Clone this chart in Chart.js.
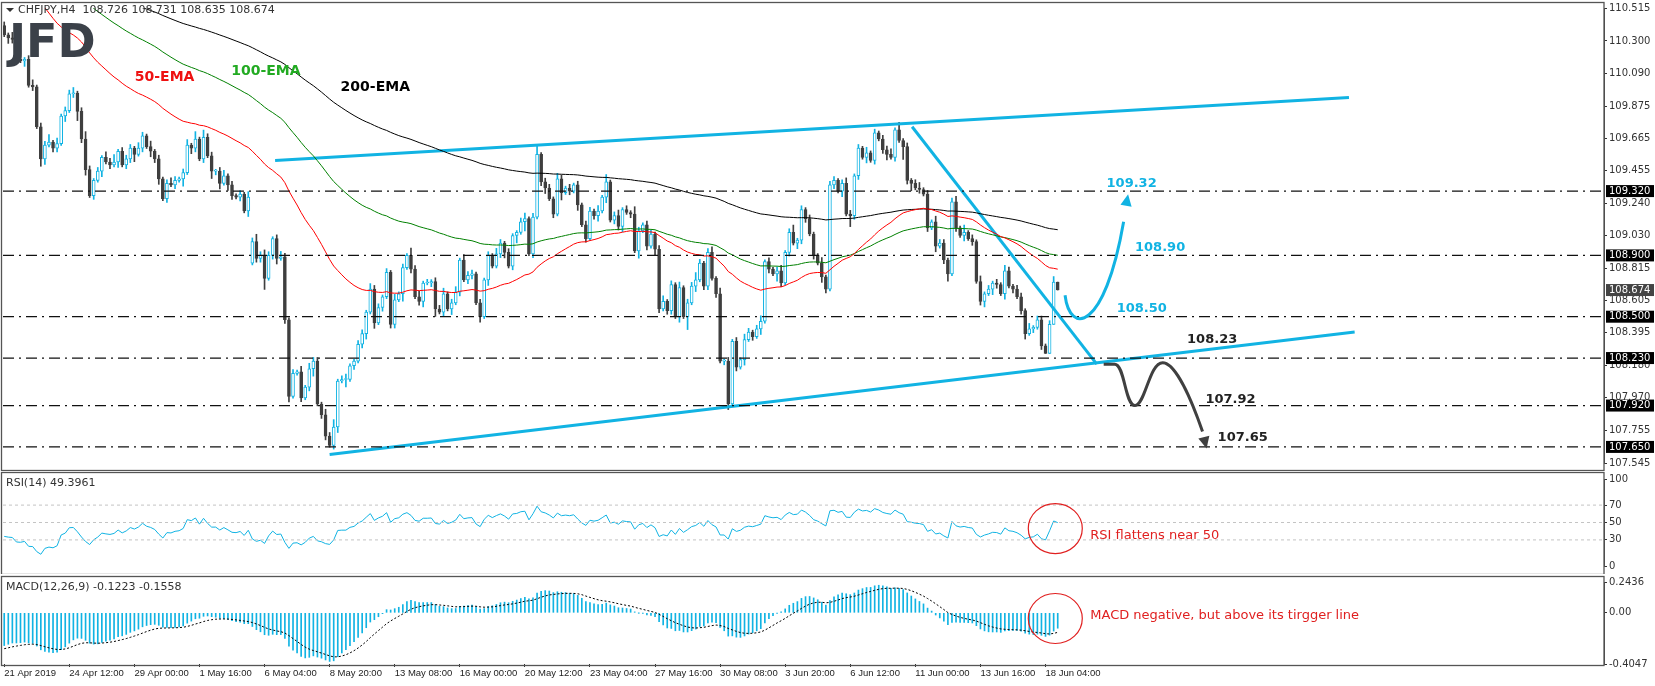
<!DOCTYPE html>
<html><head><meta charset="utf-8">
<script src="https://cdn.jsdelivr.net/npm/chart.js@4.4.1/dist/chart.umd.min.js"></script>
<style>
html,body{margin:0;padding:0;background:#fff;width:1655px;height:686px;overflow:hidden}
.p{position:absolute;left:0;width:1655px}
</style></head><body>
<div class="p" style="top:0;height:471px"><canvas id="cMain" width="1655" height="471"></canvas></div>
<div class="p" style="top:471px;height:103px"><canvas id="cRsi" width="1655" height="103"></canvas></div>
<div class="p" style="top:574px;height:112px"><canvas id="cMacd" width="1655" height="112"></canvas></div>
<script>
// ---------- DATA ----------
const closes = [
110.34,110.32,110.31,110.18,110.17,110.18,110.01,110.00,109.74,109.53,
109.62,109.64,109.60,109.63,109.81,109.845,109.955,109.96,109.84,109.66,
109.46,109.29,109.39,109.45,109.54,109.51,109.49,109.51,109.58,109.49,
109.53,109.60,109.56,109.60,109.68,109.61,109.58,109.53,109.40,109.27,
109.37,109.36,109.39,109.40,109.44,109.62,109.60,109.66,109.53,109.67,
109.55,109.45,109.45,109.37,109.42,109.36,109.29,109.28,109.30,109.19,
109.28,
108.99,108.88,108.90,108.75,108.90,109.01,108.88,108.89,108.48,107.98,
108.13,108.14,107.97,108.04,108.16,108.21,107.93,107.86,107.72,107.66,
107.78,108.08,108.09,108.09,108.18,108.21,108.32,108.39,108.53,108.68,
108.46,108.56,108.63,108.79,108.45,108.61,108.65,108.82,108.90,108.81,
108.63,108.60,108.72,108.72,108.73,108.55,108.53,108.65,108.55,108.59,
108.66,108.87,108.74,108.77,108.78,108.59,108.50,108.74,108.90,108.83,
108.91,108.98,108.92,
108.83,109.03,109.05,109.12,109.14,108.91,109.15,109.56,109.38,109.34,
109.27,109.17,109.40,109.31,109.34,109.32,109.36,109.23,109.10,109.01,
109.19,109.16,109.19,109.28,109.38,109.13,109.16,109.09,109.20,109.18,
109.17,108.93,109.06,109.10,108.96,109.04,108.94,108.55,108.60,108.54,
108.71,108.50,108.69,108.50,108.59,108.70,108.74,108.85,108.70,108.92,
108.75,108.65,108.21,108.21,107.93,108.34,108.17,108.22,108.35,108.40,
108.37,108.42,108.47,108.86,108.81,108.78,108.80,108.72,108.92,109.05,
108.98,109.00,109.20,109.14,109.04,108.90,108.85,108.76,108.68,109.36,
109.39,109.32,109.37,109.17,109.16,109.42,109.60,109.54,109.57,109.52,
109.70,109.66,109.59,109.56,109.54,109.72,109.65,109.61,109.39,109.37,
109.34,109.33,109.30,109.08,109.12,108.96,108.98,108.87,108.78,109.25,
109.08,109.03,109.05,109.01,108.99,108.73,108.60,108.65,108.68,108.72,
108.71,108.65,108.80,108.70,108.68,108.63,108.54,108.39,108.42,108.43,
108.48,108.31,108.26,108.45,108.726,108.674
];
const firstOpen = 110.40;
const gapOpens = {61:108.85};
// wick lengths, one digit per bar, in units of 0.012
const wickUp = "2131212312241312231242121324122213213121232123141422123121213242321232121313221324123112213221213121423121223123132212121321211231251221321212122131412312142122123121312242123131212132123121231241212113122123212131212231412123121322123141213121213212213122123";
const wickDn = "1322131214312213125231213121312241213231212141321214231321213122612312311212412212314121231312122141212312412131212213131123124151212312141213121231312231214121321221317131221212312131213121421213221213212131622131212312172412121312412131212313213121231212";
const dateLabels = ["21 Apr 2019","24 Apr 12:00","29 Apr 00:00","1 May 16:00","6 May 04:00","8 May 20:00","13 May 08:00","16 May 00:00","20 May 12:00","23 May 04:00","27 May 16:00","30 May 08:00","3 Jun 20:00","6 Jun 12:00","11 Jun 00:00","13 Jun 16:00","18 Jun 04:00"];
const barsPerLabel = 16;
const priceTicks = [110.515,110.300,110.090,109.875,109.665,109.455,109.240,109.030,108.815,108.605,108.395,108.180,107.970,107.755,107.545];
const levels = [109.32,108.90,108.50,108.23,107.92,107.65];
const levelTags = ["109.320","108.900","108.500","108.230","107.920","107.650"];
const lastPrice = 108.674;
const upperChannel = [[66.6,109.52],[330.6,109.93]];
const lowerChannel = [[80,107.60],[332,108.40]];
const downTrend = [[223.2,109.74],[268.6,108.19]];
const emaSeeds = {e50:110.80, e100:110.92, e200:110.85};
const macdSeeds = {fast:110.45, slow:110.72, signal:-0.29};
const rsiSeeds = {gain:0.022, loss:0.038};
const xMin = -0.3, xMax = 393.3;

// ---------- DERIVED ----------
const N = closes.length;
const opens = closes.map((c,i)=> gapOpens[i]!==undefined ? gapOpens[i] : (i===0?firstOpen:closes[i-1]));
const highs = closes.map((c,i)=> Math.max(c,opens[i]) + (+wickUp[i]||0)*0.012);
const lows  = closes.map((c,i)=> Math.min(c,opens[i]) - (+wickDn[i]||0)*0.012);
function ema(src, p, seed){let a=2/(p+1),v=seed;return src.map(x=>(v=v+a*(x-v)));}
const ema50 = ema(closes,50,emaSeeds.e50), ema100=ema(closes,100,emaSeeds.e100), ema200=ema(closes,200,emaSeeds.e200);
const e12 = ema(closes,12,macdSeeds.fast), e26 = ema(closes,26,macdSeeds.slow);
const macd = e12.map((v,i)=>v-e26[i]);
const signal = ema(macd,9,macdSeeds.signal);
const rsi = (()=>{let g=rsiSeeds.gain,l=rsiSeeds.loss;return closes.map((c,i)=>{const d=i===0?c-firstOpen:c-closes[i-1];g=(g*13+Math.max(d,0))/14;l=(l*13+Math.max(-d,0))/14;return 100-100/(1+g/l);});})();

const CY='#11b3e3', DK='#3f3f3f';
Chart.defaults.font.family='DejaVu Sans';Chart.defaults.font.size=10;Chart.defaults.color='#333';
Chart.defaults.animation=false;

const xScale=(show)=>({type:'linear',min:xMin,max:xMax,display:show,offset:false,
  afterBuildTicks:s=>{s.ticks=dateLabels.map((_,k)=>({value:k*barsPerLabel}));},
  afterFit:s=>{if(show)s.height=22;s.paddingLeft=0;s.paddingRight=0;},
  grid:{drawOnChartArea:false,drawTicks:true,tickLength:3,color:'#333',offset:false},border:{display:false},
  ticks:{autoSkip:false,maxRotation:0,align:'start',padding:1,color:'#222',font:{size:9.5,family:'Liberation Sans'},callback:v=>dateLabels[v/barsPerLabel]||''}});
const yScale=(min,max,ticks,fmt)=>({type:'linear',position:'right',min,max,
  afterBuildTicks:s=>{s.ticks=ticks.map(v=>({value:v}));},
  afterFit:s=>{s.width=51;},
  grid:{drawOnChartArea:false,tickLength:3,color:'#333'},border:{display:true,color:'#444'},
  ticks:{autoSkip:false,padding:2,color:'#333',callback:fmt}});
const frame=(t,b)=>({id:'frame',afterDraw(c){const x=c.ctx,a=c.chartArea;x.save();x.strokeStyle='#555';x.lineWidth=1.3;x.strokeRect(1.5,t+0.5,a.right-1.5,b-t);x.restore();}});
const seg=(pts,color,w,dash)=>({type:'line',data:pts.map(p=>({x:p[0],y:p[1]})),borderColor:color,borderWidth:w,borderDash:dash||[],pointRadius:0,order:0});
const idx=[...Array(N).keys()];

// ---------- MAIN ----------
const mainOverlay={id:'mainOverlay',afterDatasetsDraw(c){
  const x=c.ctx,X=v=>c.scales.x.getPixelForValue(v),Y=v=>c.scales.y.getPixelForValue(v);
  x.save();
  function arrowHead(tx,ty,fx,fy,col){const ang=Math.atan2(ty-fy,tx-fx),L=13;x.fillStyle=col;x.beginPath();x.moveTo(tx,ty);
    x.lineTo(tx-L*Math.cos(ang-0.45),ty-L*Math.sin(ang-0.45));x.lineTo(tx-L*Math.cos(ang+0.45),ty-L*Math.sin(ang+0.45));x.closePath();x.fill();}
  x.lineWidth=3;x.strokeStyle=CY;x.beginPath();x.moveTo(X(260.8),Y(108.64));
  x.bezierCurveTo(X(262),Y(108.38),X(270.5),Y(108.40),X(275.2),Y(109.12));x.stroke();
  arrowHead(X(276.3),Y(109.30),X(274.3),Y(109.0),CY);
  x.strokeStyle='#404040';x.beginPath();x.moveTo(X(270.3),Y(108.19));x.lineTo(X(273),Y(108.19));
  x.bezierCurveTo(X(275.5),Y(108.19),X(275.5),Y(107.92),X(278),Y(107.92));
  x.bezierCurveTo(X(280.5),Y(107.92),X(281.5),Y(108.20),X(284.8),Y(108.20));
  x.bezierCurveTo(X(288),Y(108.20),X(292),Y(107.95),X(294.6),Y(107.75));x.stroke();
  arrowHead(X(295.6),Y(107.64),X(293.6),Y(107.86),'#404040');
  x.font='bold 13px DejaVu Sans';x.textBaseline='middle';x.textAlign='left';
  x.fillStyle=CY;[["109.32",271,109.37],["108.90",278,108.95],["108.50",273.5,108.55]].forEach(t=>x.fillText(t[0],X(t[1]),Y(t[2])));
  x.fillStyle='#222';[["108.23",290.8,108.35],["107.92",295.3,107.96],["107.65",298.3,107.71]].forEach(t=>x.fillText(t[0],X(t[1]),Y(t[2])));
  x.font='bold 14px DejaVu Sans';
  x.fillStyle='#ee1111';x.fillText('50-EMA',X(32.1),Y(110.06));
  x.fillStyle='#22aa22';x.fillText('100-EMA',X(55.8),Y(110.10));
  x.fillStyle='#000';x.fillText('200-EMA',X(82.7),Y(110.0));
  x.fillStyle='#333';x.beginPath();x.moveTo(6,8);x.lineTo(14,8);x.lineTo(10,12);x.closePath();x.fill();
  x.font='11px DejaVu Sans';x.fillText('CHFJPY,H4  108.726 108.731 108.635 108.674',18,10);
  x.font='bold 46px DejaVu Sans';x.fillStyle='#3b4149';x.textBaseline='alphabetic';x.fillText('JFD',9,57);
  x.restore();
},afterDraw(c){
  const x=c.ctx,Y=v=>c.scales.y.getPixelForValue(v),a=c.chartArea;x.save();
  x.font='10px DejaVu Sans';x.textBaseline='middle';x.textAlign='left';
  const tag=(txt,v,bg)=>{const y=Y(v);x.fillStyle=bg;x.fillRect(a.right+2,y-6,48,12);x.fillStyle='#fff';x.fillText(txt,a.right+5,y);};
  levels.forEach((v,k)=>tag(levelTags[k],v,'#000'));tag(lastPrice.toFixed(3),lastPrice,'#444');
  x.restore();}};

new Chart(document.getElementById('cMain'),{type:'bar',
  data:{datasets:[
    ...levels.map(v=>seg([[xMin,v],[xMax,v]],'#111',1.3,[11,5,2,5])),
    {type:'bar',data:idx.map(i=>({x:i,y:[lows[i],highs[i]]})),barThickness:1,grouped:false,order:3,
      backgroundColor:idx.map(i=>closes[i]>=opens[i]?CY:DK)},
    {type:'bar',data:idx.map(i=>({x:i,y:[opens[i],closes[i]]})),barThickness:3,grouped:false,order:2,minBarLength:1,borderSkipped:false,borderWidth:1,
      backgroundColor:idx.map(i=>closes[i]>=opens[i]?'#fff':DK),borderColor:idx.map(i=>closes[i]>=opens[i]?CY:DK)},
    seg(idx.map(i=>[i,ema50[i]]),'#ff0000',1),
    seg(idx.map(i=>[i,ema100[i]]),'#008000',1),
    seg(idx.map(i=>[i,ema200[i]]),'#000000',1),
    seg(upperChannel,CY,3),seg(lowerChannel,CY,3),seg(downTrend,CY,3)
  ]},
  options:{responsive:false,layout:{padding:{left:3,right:0,top:6,bottom:2}},
    plugins:{legend:{display:false},tooltip:{enabled:false}},
    scales:{x:xScale(false),y:yScale(107.545,110.515,priceTicks,v=>v.toFixed(3))}},
  plugins:[frame(2,470),mainOverlay]});

// ---------- RSI ----------
const rsiLevels=[70,50,30];
new Chart(document.getElementById('cRsi'),{type:'line',
  data:{datasets:[
    ...rsiLevels.map(v=>seg([[xMin,v],[xMax,v]],'#c4c4c4',1,[3,3])),
    {data:idx.map(i=>({x:i,y:rsi[i]})),borderColor:CY,borderWidth:1,pointRadius:0}
  ]},
  options:{responsive:false,layout:{padding:{left:3,right:0,top:3,bottom:2}},
    plugins:{legend:{display:false},tooltip:{enabled:false}},
    scales:{x:xScale(false),y:yScale(0,100,[0,30,50,70,100],v=>String(v))}},
  plugins:[frame(1,103),{id:'rsiOv',afterDraw(c){const x=c.ctx,X=v=>c.scales.x.getPixelForValue(v),Y=v=>c.scales.y.getPixelForValue(v);x.save();
    x.font='11px DejaVu Sans';x.fillStyle='#333';x.textBaseline='middle';x.fillText('RSI(14) 49.3961',6,12);
    x.strokeStyle='#e02020';x.lineWidth=1.2;x.beginPath();x.ellipse(X(258.4),Y(43),27,25,0,0,Math.PI*2);x.stroke();
    x.fillStyle='#e02020';x.font='13px DejaVu Sans';x.fillText('RSI flattens near 50',X(267),Y(35));x.restore();}}]});

// ---------- MACD ----------
new Chart(document.getElementById('cMacd'),{type:'bar',
  data:{datasets:[
    {type:'bar',data:idx.map(i=>({x:i,y:macd[i]})),barThickness:1,backgroundColor:CY,order:2},
    {type:'line',data:idx.map(i=>({x:i,y:signal[i]})),borderColor:'#000',borderWidth:1,borderDash:[2,2],pointRadius:0,order:1}
  ]},
  options:{responsive:false,layout:{padding:{left:3,right:0,top:4,bottom:0}},
    plugins:{legend:{display:false},tooltip:{enabled:false}},
    scales:{x:xScale(true),y:yScale(-0.4047,0.2436,[-0.4047,0,0.2436],v=>v===0?'0.00':v.toFixed(4))}},
  plugins:[frame(2,91),{id:'macdOv',afterDraw(c){const x=c.ctx,X=v=>c.scales.x.getPixelForValue(v),Y=v=>c.scales.y.getPixelForValue(v);x.save();
    x.font='11px DejaVu Sans';x.fillStyle='#333';x.textBaseline='middle';x.fillText('MACD(12,26,9) -0.1223 -0.1558',6,13);
    x.strokeStyle='#e02020';x.lineWidth=1.2;x.beginPath();x.ellipse(X(258.4),Y(-0.045),27,25,0,0,Math.PI*2);x.stroke();
    x.fillStyle='#e02020';x.font='13px DejaVu Sans';x.fillText('MACD negative, but above its tirgger line',X(267),Y(-0.02));x.restore();}}]});
</script></body></html>
